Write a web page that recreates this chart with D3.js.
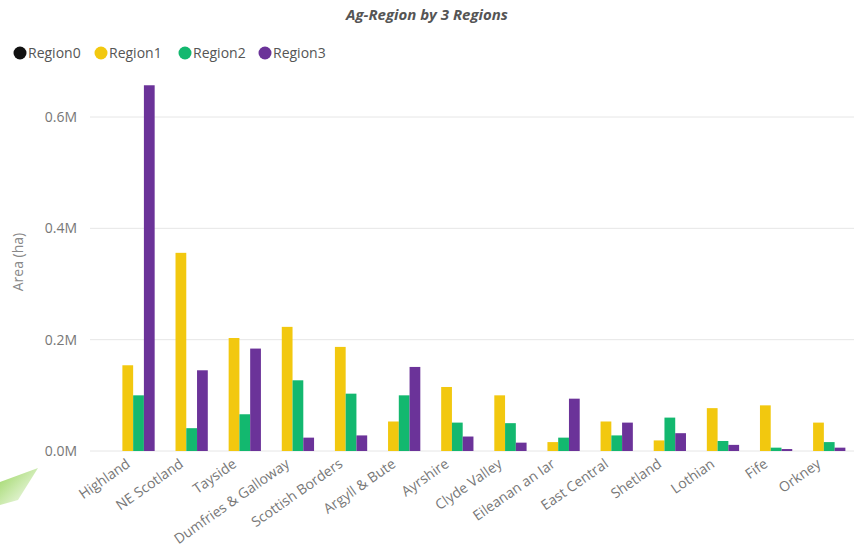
<!DOCTYPE html>
<html><head><meta charset="utf-8">
<script src="https://cdn.jsdelivr.net/npm/d3@7/dist/d3.min.js"></script>
<style>body{margin:0;background:#fff;}svg{display:block;font-family:"Segoe UI","Open Sans",sans-serif;}</style>
</head><body>
<svg id="c" width="854" height="549"></svg>
<script>
const categories = ["Highland","NE Scotland","Tayside","Dumfries & Galloway","Scottish Borders","Argyll & Bute","Ayrshire","Clyde Valley","Eileanan an Iar","East Central","Shetland","Lothian","Fife","Orkney"];
const seriesNames = ["Region0","Region1","Region2","Region3"];
const region0 = [0,0,0,0,0,0,0,0,0,0,0,0,0,0];
const region1 = [154000,356000,203000,223000,187000,53000,115000,100000,16000,53000,19000,77000,82000,51000];
const region2 = [100000,41000,66000,127000,103000,100000,51000,50000,24000,28000,60000,18000,6000,16000];
const region3 = [657000,145000,184000,24000,28000,151000,26000,15000,94000,51000,32000,11000,3500,6000];
const yTicks = [0,200000,400000,600000];
const colors = ["#111111","#F2C80F","#13B86F","#6B3399"];

const svg = d3.select("#c");
const values = [region0,region1,region2,region3];

const x = d3.scaleBand().domain(categories).range([101,856]).paddingInner(0.19).paddingOuter(0.2);
const xs = d3.scaleBand().domain(seriesNames).range([0,x.bandwidth()]);
const y = d3.scaleLinear().domain([0,600000]).range([451,117]);

// green decoration bottom-left
const grad = svg.append("defs").append("linearGradient").attr("id","g1").attr("x1","0").attr("y1","0").attr("x2","1").attr("y2","1");
grad.append("stop").attr("offset","0").attr("stop-color","#8fd14f");
grad.append("stop").attr("offset","1").attr("stop-color","#ffffff");
svg.append("path").attr("d","M0,482 L38,468 L18,500 L0,505 Z").attr("fill","url(#g1)").attr("opacity",0.9);

// gridlines
svg.append("g").selectAll("line").data(yTicks).join("line")
  .attr("x1",90).attr("x2",854).attr("y1",d=>y(d)).attr("y2",d=>y(d))
  .attr("stroke","#e6e6e6").attr("stroke-width",1);

// y axis
const yAxis = d3.axisLeft(y).tickValues(yTicks).tickSize(0).tickPadding(0)
  .tickFormat(d=>(d/1e6).toFixed(1)+"M");
const ya = svg.append("g").attr("transform","translate(77,0)").call(yAxis);
ya.select(".domain").remove();
ya.selectAll("text").attr("fill","#777").attr("font-size",14).attr("font-family","'Segoe UI','Open Sans',sans-serif");

svg.append("text").attr("transform","translate(23,262) rotate(-90)").attr("text-anchor","middle")
  .attr("fill","#888").attr("font-size",14).text("Area (ha)");

// bars
const g = svg.append("g");
seriesNames.forEach((s,si)=>{
  g.append("g").selectAll("rect").data(categories).join("rect")
    .attr("x",(c)=>x(c)+xs(s))
    .attr("width",xs.bandwidth())
    .attr("y",(c,i)=>y(values[si][i]))
    .attr("height",(c,i)=>y(0)-y(values[si][i]))
    .attr("fill",colors[si]);
});

// x axis
const xAxis = d3.axisBottom(x).tickSize(0).tickPadding(0);
const xa = svg.append("g").attr("transform","translate(0,451)").call(xAxis);
xa.select(".domain").remove();
xa.selectAll("text").attr("fill","#777").attr("font-size",14)
  .attr("font-family","'Segoe UI','Open Sans',sans-serif")
  .attr("text-anchor","end").attr("dy","0").attr("y",0)
  .attr("transform","translate(-2,15) rotate(-35)");

// title
svg.append("text").attr("x",427).attr("y",20).attr("text-anchor","middle")
  .attr("font-size",15).attr("font-weight","bold").attr("font-style","italic")
  .attr("fill","#555").text("Ag-Region by 3 Regions");

// legend
const legX = [20,101,185,265];
const lg = svg.append("g");
seriesNames.forEach((s,i)=>{
  lg.append("circle").attr("cx",legX[i]).attr("cy",53).attr("r",6.5).attr("fill",colors[i]);
  lg.append("text").attr("x",legX[i]+8).attr("y",58).attr("font-size",14).attr("fill","#555").text(s);
});
</script>
</body></html>
